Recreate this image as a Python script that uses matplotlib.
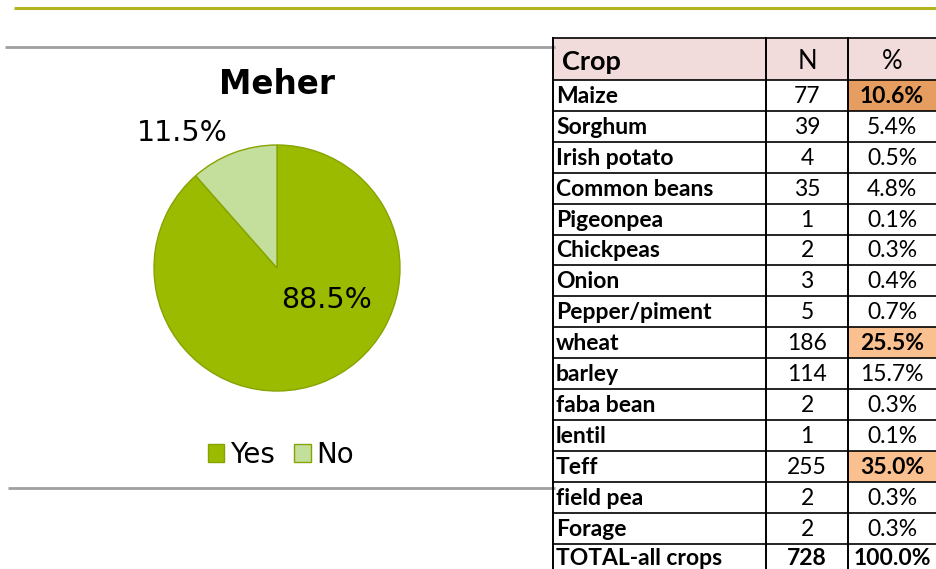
import matplotlib
matplotlib.use('Agg')
import matplotlib.pyplot as plt
import matplotlib.patches as mpatches

# ── data ──
PIE_LABELS = ['Yes', 'No']
PIE_VALUES = [88.5, 11.5]
PIE_COLORS = ['#9bbb00', '#c4df9b']

CROPS = ['Maize', 'Sorghum', 'Irish potato', 'Common beans', 'Pigeonpea', 'Chickpeas',
         'Onion', 'Pepper/piment', 'wheat', 'barley', 'faba bean', 'lentil', 'Teff',
         'field pea', 'Forage', 'TOTAL-all crops']
COUNTS = [77, 39, 4, 35, 1, 2, 3, 5, 186, 114, 2, 1, 255, 2, 2, 728]
PCTS = ['10.6%', '5.4%', '0.5%', '4.8%', '0.1%', '0.3%', '0.4%', '0.7%', '25.5%',
        '15.7%', '0.3%', '0.1%', '35.0%', '0.3%', '0.3%', '100.0%']
HIGHLIGHT = {'Maize': '#e59d60', 'wheat': '#fac090', 'Teff': '#fac090'}

W, H = 936, 569
TFONT = ['Lato', 'DejaVu Sans']

fig = plt.figure(figsize=(W / 100, H / 100), dpi=100)
bg = fig.add_axes([0, 0, 1, 1])
bg.set_xlim(0, W)
bg.set_ylim(H, 0)
bg.set_axis_off()

# decorative rules
bg.plot([14, W], [8, 8], color='#b4b41e', lw=2.2, solid_capstyle='butt')
bg.plot([5, 555], [47, 47], color='#a0a0a0', lw=2.0, solid_capstyle='butt')
bg.plot([8, 555], [488, 488], color='#a0a0a0', lw=2.0, solid_capstyle='butt')

# ── table ──
col_x = [553, 766, 848, 940]
head_top, head_bot = 38, 80
row_h = 30.9

bg.add_patch(mpatches.Rectangle((col_x[0], head_top), col_x[3] - col_x[0], head_bot - head_top,
                                facecolor='#f2dcdb', edgecolor='none'))
for i, crop in enumerate(CROPS):
    if crop in HIGHLIGHT:
        y0 = head_bot + i * row_h
        bg.add_patch(mpatches.Rectangle((col_x[2], y0), col_x[3] - col_x[2], row_h,
                                        facecolor=HIGHLIGHT[crop], edgecolor='none'))

n_rows = len(CROPS)
for k in range(n_rows + 1):
    y = head_bot + k * row_h
    bg.plot([col_x[0], col_x[3]], [y, y], color='black', lw=1.2)
bg.plot([col_x[0], col_x[3]], [head_top, head_top], color='black', lw=1.2)
for x in col_x[:3]:
    bg.plot([x, x], [head_top, H + 10], color='black', lw=1.4)

bg.text(562, 62, 'Crop', fontsize=19.5, fontweight='bold', family=TFONT, ha='left', va='center')
bg.text((col_x[1] + col_x[2]) / 2, 61, 'N', fontsize=18.5, family=TFONT, ha='center', va='center')
bg.text((col_x[2] + 936) / 2, 61, '%', fontsize=18.5, family=TFONT, ha='center', va='center')

for i, (crop, n, p) in enumerate(zip(CROPS, COUNTS, PCTS)):
    yc = head_bot + (i + 0.5) * row_h + 1
    total = crop.startswith('TOTAL')
    if total:
        yc -= 1.5  # keep the last row inside the canvas
    bg.text(556, yc, crop, fontsize=16.5, fontweight='bold', family=TFONT, ha='left', va='center')
    bg.text((col_x[1] + col_x[2]) / 2, yc, str(n), fontsize=16.5,
            fontweight='bold' if total else 'normal', family=TFONT, ha='center', va='center')
    bg.text((col_x[2] + 936) / 2, yc, p, fontsize=16.5,
            fontweight='bold' if (total or crop in HIGHLIGHT) else 'normal',
            family=TFONT, ha='center', va='center')

# ── pie ──
cx, cy, r = 277, 268, 123
pax = fig.add_axes([(cx - r) / W, (H - cy - r) / H, 2 * r / W, 2 * r / H])
wedges, _ = pax.pie(PIE_VALUES, colors=PIE_COLORS, startangle=90, counterclock=False,
                    radius=1, wedgeprops=dict(edgecolor='#86a300', linewidth=1.0))
pax.set_xlim(-1, 1)
pax.set_ylim(-1, 1)
pax.set_aspect('equal')
pax.text(0.40, -0.26, f'{PIE_VALUES[0]}%', fontsize=20.5, ha='center', va='center')
pax.text(-0.77, 1.10, f'{PIE_VALUES[1]}%', fontsize=20.5, ha='center', va='center', clip_on=False)

bg.text(cx, 84, 'Meher', fontsize=23.5, fontweight='bold', ha='center', va='center')

handles = [mpatches.Patch(facecolor=c, edgecolor='#86a300', linewidth=1.0) for c in PIE_COLORS]
fig.legend(handles, PIE_LABELS, loc='center', bbox_to_anchor=(281 / W, 1 - 455 / H),
           ncol=2, frameon=False, fontsize=20, handlelength=0.6, handleheight=0.6,
           handletextpad=0.2, columnspacing=0.7, borderpad=0)

fig.savefig('out.png', dpi=100)
